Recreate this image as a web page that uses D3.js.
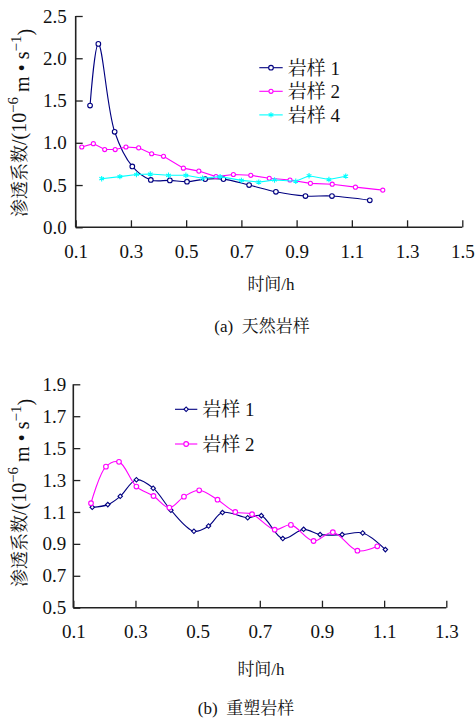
<!doctype html>
<html lang="zh">
<head>
<meta charset="utf-8">
<script src="https://d3js.org/d3.v7.min.js"></script>
<style>
	body { margin: 0; background: #fff; }
	svg text { font-family: "Liberation Serif", "Noto Serif CJK SC", "Noto Sans CJK SC", serif; fill: #111; }
</style>
</head>
<body>
<div id="chart"></div>
<script>

	// ---- panel (a): 天然岩样 ----
	var a_rock1_t = [0.152, 0.182, 0.241, 0.305, 0.372, 0.441, 0.503, 0.569, 0.635, 0.728, 0.825, 0.932, 1.028, 1.165];
	var a_rock1_k = [1.44, 2.17, 1.13, 0.72, 0.56, 0.555, 0.54, 0.57, 0.57, 0.50, 0.42, 0.37, 0.37, 0.32];
	var a_rock2_t = [0.122, 0.164, 0.205, 0.243, 0.282, 0.328, 0.375, 0.418, 0.490, 0.546, 0.608, 0.671, 0.734, 0.801, 0.876, 0.950, 1.029, 1.113, 1.212];
	var a_rock2_k = [0.95, 0.99, 0.92, 0.92, 0.95, 0.94, 0.87, 0.84, 0.70, 0.665, 0.60, 0.625, 0.615, 0.58, 0.56, 0.52, 0.51, 0.475, 0.44];
	var a_rock4_t = [0.194, 0.260, 0.320, 0.370, 0.436, 0.499, 0.559, 0.623, 0.700, 0.763, 0.820, 0.897, 0.945, 1.017, 1.078];
	var a_rock4_k = [0.575, 0.60, 0.625, 0.63, 0.615, 0.615, 0.58, 0.60, 0.555, 0.535, 0.56, 0.545, 0.61, 0.565, 0.605];
	var a_xticks = [0.1, 0.3, 0.5, 0.7, 0.9, 1.1, 1.3, 1.5];
	var a_yticks = [0.0, 0.5, 1.0, 1.5, 2.0, 2.5];

	// ---- panel (b): 重塑岩样 ----
	var b_rock1_t = [0.161, 0.211, 0.251, 0.303, 0.357, 0.414, 0.488, 0.535, 0.580, 0.661, 0.705, 0.774, 0.841, 0.894, 0.965, 1.031, 1.104];
	var b_rock1_k = [1.129, 1.146, 1.198, 1.302, 1.249, 1.111, 0.979, 1.012, 1.096, 1.064, 1.077, 0.933, 0.991, 0.958, 0.958, 0.968, 0.864];
	var b_rock2_t = [0.157, 0.205, 0.247, 0.303, 0.358, 0.409, 0.456, 0.505, 0.564, 0.621, 0.675, 0.748, 0.800, 0.873, 0.935, 1.014, 1.078];
	var b_rock2_k = [1.155, 1.384, 1.414, 1.259, 1.200, 1.127, 1.196, 1.236, 1.177, 1.100, 1.086, 0.989, 1.019, 0.918, 0.973, 0.857, 0.885];
	var b_xticks = [0.1, 0.3, 0.5, 0.7, 0.9, 1.1, 1.3];
	var b_yticks = [0.5, 0.7, 0.9, 1.1, 1.3, 1.5, 1.7, 1.9];

	var W = 476, H = 718;
	var svg = d3.select("#chart").append("svg")
		.attr("width", W)
		.attr("height", H);

	function zip(t, k) { return t.map(function(v, i) { return [v, k[i]]; }); }

	function drawPanel(p) {
		var x = d3.scaleLinear().domain(p.xdom).range([p.left, p.right]);
		var y = d3.scaleLinear().domain(p.ydom).range([p.bottom, p.top]);
		var g = svg.append("g");

		// axes (ticks point inward)
		g.append("g")
			.attr("transform", "translate(0," + p.bottom + ")")
			.call(d3.axisBottom(x).tickValues(p.xticks).tickSize(-7).tickFormat(d3.format(".1f")))
			.call(function(s) {
				s.select(".domain").attr("stroke", "#222").attr("stroke-width", 1.6).attr("d", "M" + p.left + ",0H" + p.right);
				s.selectAll(".tick line").attr("stroke", "#222").attr("stroke-width", 1.3);
				s.selectAll(".tick text").attr("y", 17).attr("dy", "0.71em").style("font-size", "19px").attr("fill", "#111");
			});
		g.append("g")
			.attr("transform", "translate(" + p.left + ",0)")
			.call(d3.axisLeft(y).tickValues(p.yticks).tickSize(-7).tickFormat(d3.format(".1f")))
			.call(function(s) {
				s.select(".domain").attr("stroke", "#222").attr("stroke-width", 1.6).attr("d", "M0," + p.top + "V" + p.bottom);
				s.selectAll(".tick line").attr("stroke", "#222").attr("stroke-width", 1.3);
				s.selectAll(".tick text").attr("x", -p.ylabGap).style("font-size", "19px").attr("fill", "#111");
			});

		// series
		p.series.forEach(function(s) {
			var pts = zip(s.t, s.k);
			var line = d3.line()
				.x(function(d) { return x(d[0]); })
				.y(function(d) { return y(d[1]); })
				.curve(s.smooth ? d3.curveCatmullRom.alpha(0.5) : d3.curveLinear);
			g.append("path")
				.attr("d", line(pts))
				.attr("fill", "none")
				.attr("stroke", s.color)
				.attr("stroke-width", 1.1);
			var sym = d3.symbol().type(s.symbol).size(s.size);
			g.selectAll(null)
				.data(pts)
				.enter()
				.append("path")
				.attr("transform", function(d) { return "translate(" + x(d[0]) + "," + y(d[1]) + ") rotate(" + (s.rot || 0) + ")"; })
				.attr("d", sym)
				.attr("fill", s.symbol === d3.symbolAsterisk ? "none" : "#fff")
				.attr("stroke", s.color)
				.attr("stroke-width", 1.1);
		});

		// legend
		p.series.forEach(function(s, i) {
			var ly = p.legY + i * p.legStep;
			g.append("line")
				.attr("x1", p.legX).attr("x2", p.legX + p.legLen)
				.attr("y1", ly).attr("y2", ly)
				.attr("stroke", s.color).attr("stroke-width", 1.1);
			g.append("path")
				.attr("transform", "translate(" + (p.legX + p.legLen / 2) + "," + ly + ") rotate(" + (s.rot || 0) + ")")
				.attr("d", d3.symbol().type(s.symbol).size(s.size)())
				.attr("fill", s.symbol === d3.symbolAsterisk ? "none" : "#fff")
				.attr("stroke", s.color).attr("stroke-width", 1.1);
			g.append("text")
				.attr("x", p.legX + p.legLen + 5)
				.attr("y", ly)
				.attr("dy", "0.36em")
				.style("font-size", "19px")
				.text(s.name);
		});

		// y label
		var yl = g.append("text")
			.attr("transform", "translate(" + p.ylabX + "," + p.ylabY + ") rotate(-90)")
			.attr("text-anchor", "middle")
			.style("font-size", "20px");
		yl.append("tspan").style("font-size", "18px").text("渗透系数");
		yl.append("tspan").text("/(10");
		yl.append("tspan").attr("dy", "-0.55em").style("font-size", "15px").text("−6");
		yl.append("tspan").attr("dy", "0.55em").text(" m • s");
		yl.append("tspan").attr("dy", "-0.55em").style("font-size", "15px").text("−1");
		yl.append("tspan").attr("dy", "0.55em").text(")");

		// x label and caption
		g.append("text")
			.attr("x", p.xlabX)
			.attr("y", p.xlabY)
			.attr("text-anchor", "middle")
			.style("font-size", "17px")
			.text("时间/h");
		g.append("text")
			.attr("x", p.capX)
			.attr("y", p.capY)
			.attr("text-anchor", "middle")
			.style("font-size", "17px")
			.attr("xml:space", "preserve")
			.text(p.caption);
	}

	drawPanel({
		xdom: [0.1, 1.5], ydom: [0, 2.5],
		left: 75.7, right: 462.3, top: 16, bottom: 227.3,
		xticks: a_xticks, yticks: a_yticks, ylabGap: 9,
		series: [
			{ name: "岩样 1", t: a_rock1_t, k: a_rock1_k, color: "#000080", symbol: d3.symbolCircle, size: 17, smooth: true },
			{ name: "岩样 2", t: a_rock2_t, k: a_rock2_k, color: "#ff00ff", symbol: d3.symbolCircle, size: 13, smooth: false },
			{ name: "岩样 4", t: a_rock4_t, k: a_rock4_k, color: "#00ffff", symbol: d3.symbolAsterisk, size: 20, smooth: false }
		],
		legX: 259.3, legLen: 23.4, legY: 67.7, legStep: 23.6,
		ylabX: 26, ylabY: 123, xlabX: 271, xlabY: 290, capX: 262, capY: 332,
		caption: "(a)  天然岩样"
	});

	drawPanel({
		xdom: [0.1, 1.3], ydom: [0.5, 1.9],
		left: 73.3, right: 446.3, top: 384.3, bottom: 607.7,
		xticks: b_xticks, yticks: b_yticks, ylabGap: 7,
		series: [
			{ name: "岩样 1", t: b_rock1_t, k: b_rock1_k, color: "#000080", symbol: d3.symbolSquare, size: 10, rot: 45, smooth: true },
			{ name: "岩样 2", t: b_rock2_t, k: b_rock2_k, color: "#ff00ff", symbol: d3.symbolCircle, size: 17, smooth: true }
		],
		legX: 175, legLen: 22.3, legY: 409.3, legStep: 34.7,
		ylabX: 26, ylabY: 493, xlabX: 261, xlabY: 675, capX: 246, capY: 714,
		caption: "(b)  重塑岩样"
	});

</script>
</body>
</html>
